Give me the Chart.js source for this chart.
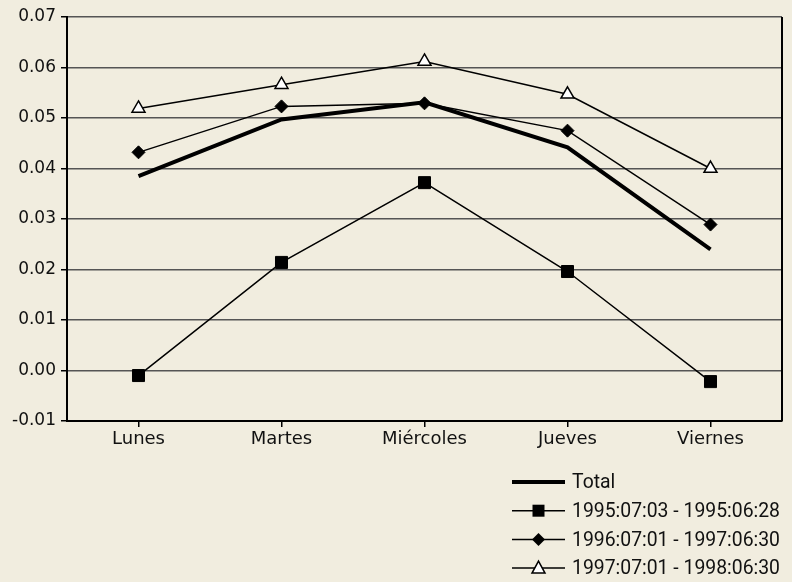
<!DOCTYPE html>
<html lang="es">
<head>
<meta charset="UTF-8">
<title>Rentabilidad por día de la semana</title>
<script src="https://cdn.jsdelivr.net/npm/chart.js"></script>
<style>
  html, body { margin: 0; padding: 0; background: #f1eddf; }
  #wrap { width: 792px; height: 582px; }
</style>
</head>
<body>
<div id="wrap"><canvas id="grafico" width="792" height="582"></canvas></div>
<script>
// datos
const dias = ['Lunes', 'Martes', 'Miércoles', 'Jueves', 'Viernes'];
const total = [0.0385, 0.0497, 0.0531, 0.0442, 0.0240];
const serie1995 = [-0.0010, 0.0214, 0.0372, 0.0196, -0.0022];
const serie1996 = [0.0432, 0.0523, 0.0529, 0.0475, 0.0289];
const serie1997 = [0.0519, 0.0566, 0.0612, 0.0547, 0.0400];
const etiquetas = ['Total', '1995:07:03 - 1995:06:28', '1996:07:01 - 1997:06:30', '1997:07:01 - 1998:06:30'];

const fondo = '#f1eddf';

// símbolo de la leyenda
function simbolo(c, estilo, x, y) {
  c.beginPath();
  if (estilo === 'rect') {
    c.rect(x - 6, y - 6, 12, 12);
    c.fillStyle = '#000';
    c.fill();
  } else if (estilo === 'rectRot') {
    c.moveTo(x, y - 6.5); c.lineTo(x + 6.5, y); c.lineTo(x, y + 6.5); c.lineTo(x - 6.5, y);
    c.closePath();
    c.fillStyle = '#000';
    c.fill();
  } else if (estilo === 'triangle') {
    c.moveTo(x, y - 7); c.lineTo(x + 6.5, y + 5); c.lineTo(x - 6.5, y + 5);
    c.closePath();
    c.fillStyle = '#fff';
    c.fill();
    c.lineWidth = 1.5;
    c.strokeStyle = '#000';
    c.stroke();
  }
}

// fondo, borde derecho y leyenda
const extras = {
  id: 'extras',
  beforeDraw(chart) {
    const c = chart.ctx;
    c.save();
    c.fillStyle = fondo;
    c.fillRect(0, 0, chart.width, chart.height);
    c.restore();
  },
  afterDraw(chart) {
    const c = chart.ctx;
    const a = chart.chartArea;
    c.save();
    c.strokeStyle = '#000';
    c.lineWidth = 2;
    c.beginPath();
    c.moveTo(a.right, a.top);
    c.lineTo(a.right, a.bottom);
    c.stroke();

    // leyenda (texto estrechado para parecer condensado)
    const x0 = 512, x1 = 565, tx = 572;
    let y = 482;
    c.font = '21px Roboto, "Liberation Sans", sans-serif';
    c.textBaseline = 'middle';
    const ancho = Math.max(...chart.data.datasets.map(d => c.measureText(d.label).width));
    const esc = Math.min(1, 208 / ancho);
    chart.data.datasets.forEach((ds) => {
      c.strokeStyle = '#000';
      c.lineWidth = ds.borderWidth;
      c.beginPath();
      c.moveTo(x0, y);
      c.lineTo(x1, y);
      c.stroke();
      if (ds.pointRadius > 0) simbolo(c, ds.pointStyle, (x0 + x1) / 2, y);
      c.save();
      c.translate(tx, y + 1);
      c.scale(esc, 1);
      c.fillStyle = '#111';
      c.fillText(ds.label, 0, 0);
      c.restore();
      y += 28.7;
    });
    c.restore();
  }
};

new Chart(document.getElementById('grafico'), {
  type: 'line',
  data: {
    labels: dias,
    datasets: [
      {
        label: etiquetas[0], data: total,
        borderColor: '#000', borderWidth: 4,
        pointRadius: 0, pointHoverRadius: 0
      },
      {
        label: etiquetas[1], data: serie1995,
        borderColor: '#000', borderWidth: 1.5,
        pointStyle: 'rect', pointRadius: 8.5,
        pointBackgroundColor: '#000', pointBorderColor: '#000', pointBorderWidth: 1
      },
      {
        label: etiquetas[2], data: serie1996,
        borderColor: '#000', borderWidth: 1.5,
        pointStyle: 'rectRot', pointRadius: 6.5,
        pointBackgroundColor: '#000', pointBorderColor: '#000', pointBorderWidth: 1
      },
      {
        label: etiquetas[3], data: serie1997,
        borderColor: '#000', borderWidth: 1.5,
        pointStyle: 'triangle', pointRadius: 7.5,
        pointBackgroundColor: '#fff', pointBorderColor: '#000', pointBorderWidth: 1.5
      }
    ]
  },
  options: {
    responsive: false,
    animation: false,
    layout: { padding: { top: 17, right: 10, left: 0, bottom: 0 } },
    plugins: {
      legend: { display: false },
      tooltip: { enabled: false }
    },
    scales: {
      x: {
        offset: true,
        afterFit(scale) { scale.height = 161; },
        grid: {
          offset: false, drawOnChartArea: false, drawTicks: true,
          tickLength: 6, color: '#000', lineWidth: 1.5
        },
        border: { color: '#000', width: 2 },
        ticks: {
          color: '#111', padding: 2,
          font: { family: '"DejaVu Sans", sans-serif', size: 18 }
        }
      },
      y: {
        min: -0.01, max: 0.07,
        afterFit(scale) { scale.width = 67; },
        grid: { color: '#555', lineWidth: 1.5, tickLength: 6, tickColor: '#000' },
        border: { color: '#000', width: 2 },
        ticks: {
          stepSize: 0.01, color: '#111', padding: 5,
          font: { family: '"DejaVu Sans", sans-serif', size: 17 },
          callback: v => v.toFixed(2)
        }
      }
    }
  },
  plugins: [extras]
});
</script>
</body>
</html>
